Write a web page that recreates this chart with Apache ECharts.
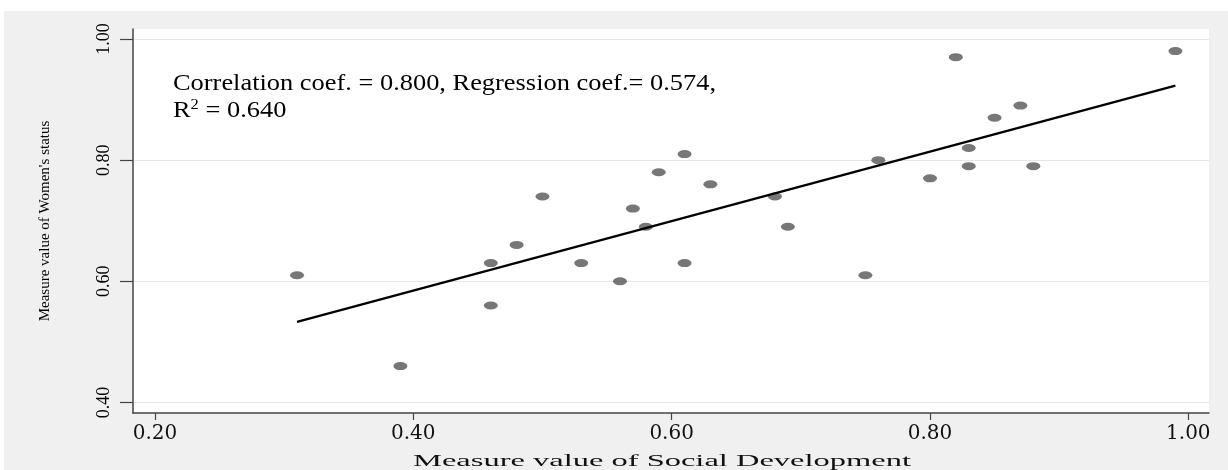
<!DOCTYPE html>
<html><head><meta charset="utf-8">
<script src="https://cdn.jsdelivr.net/npm/echarts@6/dist/echarts.min.js"></script>
<style>html,body{margin:0;padding:0;background:#fff}#c{position:absolute;left:4px;top:11px;width:1224px;height:459px}</style>
</head><body><div id="c"></div><script>
const socialDev = [0.31,0.39,0.46,0.46,0.48,0.50,0.53,0.56,0.57,0.58,0.59,0.61,0.61,0.63,0.68,0.69,0.75,0.76,0.80,0.82,0.83,0.83,0.85,0.87,0.88,0.99];
const womenStatus = [0.61,0.46,0.63,0.56,0.66,0.74,0.63,0.60,0.72,0.69,0.78,0.81,0.63,0.76,0.74,0.69,0.61,0.80,0.77,0.97,0.82,0.79,0.87,0.89,0.79,0.98];
const fitX = [0.31, 0.99];
const fitY = [0.533, 0.923];
const xTicks = [0.2, 0.4, 0.6, 0.8, 1.0];
const yTicks = [0.4, 0.6, 0.8, 1.0];
const xTitle = 'Measure value of Social Development';
const yTitle = "Measure value of Women's status";
const noteLine1 = 'Correlation coef. = 0.800, Regression coef.= 0.574,';
const noteR = 'R';
const noteSup = '2';
const noteRest = ' = 0.640';

const points = socialDev.map((x, i) => [x, womenStatus[i]]);
const fitLine = fitX.map((x, i) => [x, fitY[i]]);

const chart = echarts.init(document.getElementById('c'));
chart.setOption({
  backgroundColor: '#f0f0f0',
  animation: false,
  grid: { left: 129, top: 18, width: 1076, height: 384, show: true, backgroundColor: '#ffffff', borderWidth: 0 },
  xAxis: {
    type: 'value', min: 0.183, max: 1.016,
    axisLine: { show: true, onZero: false, lineStyle: { color: '#444', width: 1.5 } },
    axisTick: { show: true, customValues: xTicks, length: 7, lineStyle: { color: '#444', width: 1.2 } },
    axisLabel: { customValues: xTicks, formatter: v => v.toFixed(2), fontFamily: 'DejaVu Serif', fontSize: 20, color: '#111', margin: 11 },
    splitLine: { show: false }
  },
  yAxis: {
    type: 'value', min: 0.3825, max: 1.0165,
    name: yTitle, nameLocation: 'middle', nameGap: 80, nameRotate: 90,
    nameTextStyle: { fontFamily: 'Liberation Serif', fontSize: 15, color: '#000' },
    axisLine: { show: true, onZero: false, lineStyle: { color: '#444', width: 1.5 } },
    axisTick: { show: true, customValues: yTicks, length: 13, lineStyle: { color: '#444', width: 1.2 } },
    axisLabel: { customValues: yTicks, rotate: 90, formatter: v => v.toFixed(2), fontFamily: 'Liberation Serif', fontSize: 18, color: '#000', margin: 20 },
    splitLine: { show: true, lineStyle: { color: '#e6e6e6', width: 1.2 } }
  },
  graphic: [
    { type: 'text', x: 169, y: 73, scaleX: 1.1, style: { text: noteLine1, font: '24px "Liberation Serif"', fill: '#000', verticalAlign: 'middle' }, z: 100 },
    { type: 'text', x: 169, y: 100, scaleX: 1.1, style: {
        text: '{r|' + noteR + '}{s|' + noteSup + '}{r|' + noteRest + '}',
        verticalAlign: 'middle',
        rich: {
          r: { fontFamily: 'Liberation Serif', fontSize: 24, fill: '#000', color: '#000' },
          s: { fontFamily: 'Liberation Serif', fontSize: 15, fill: '#000', color: '#000', verticalAlign: 'top', padding: [0, 0, 12, 0] }
        } }, z: 100 },
    { type: 'text', x: 658, y: 451, scaleX: 2.03, style: { text: xTitle, font: '16px "Liberation Serif"', fill: '#111', align: 'center', verticalAlign: 'middle' }, z: 100 }
  ],
  series: [
    { type: 'scatter', data: points, symbol: 'circle', symbolSize: [14, 8], itemStyle: { color: '#555555' }, z: 2 },
    { type: 'line', data: fitLine, symbol: 'none', lineStyle: { color: '#000', width: 2.2 }, z: 3, silent: true }
  ]
});
</script></body></html>
